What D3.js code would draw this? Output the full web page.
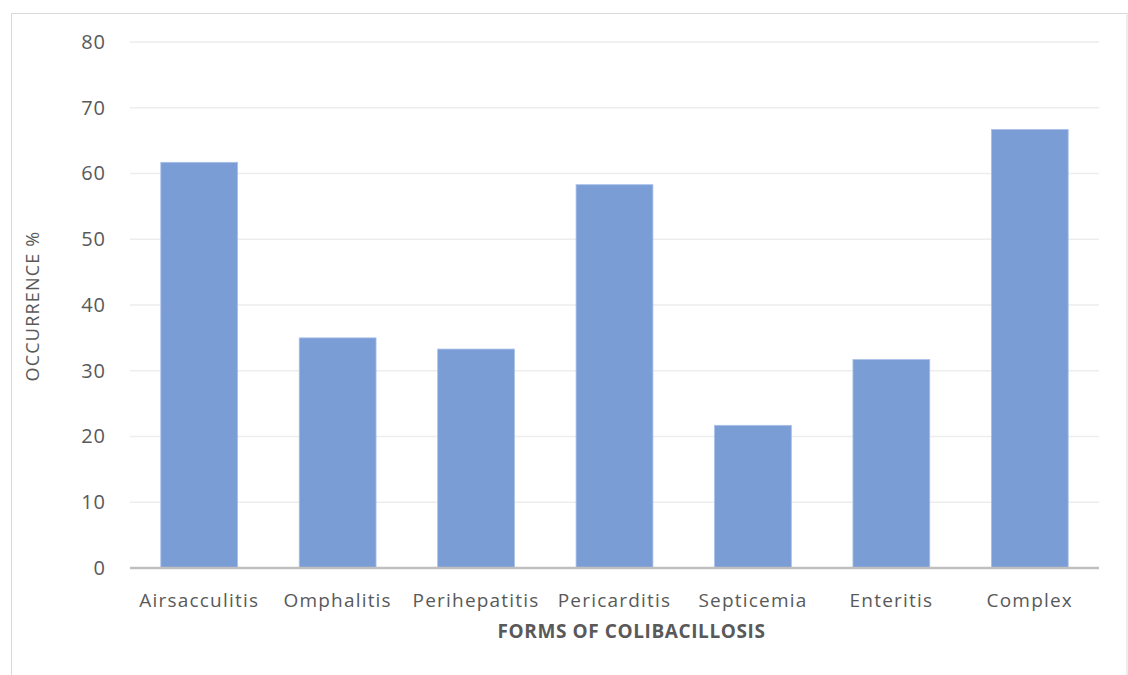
<!DOCTYPE html>
<html>
<head>
<meta charset="utf-8">
<script src="https://cdn.jsdelivr.net/npm/d3@7"></script>
<style>
  html, body { margin: 0; padding: 0; background: #fff; }
  svg { display: block; }
</style>
</head>
<body>
<svg id="chart" width="1128" height="675"></svg>
<script>
// Occurrence of colibacillosis forms (%)
const categories = ["Airsacculitis", "Omphalitis", "Perihepatitis", "Pericarditis", "Septicemia", "Enteritis", "Complex"];
const occurrence = [61.7, 35.0, 33.3, 58.3, 21.7, 31.7, 66.7];
const yTicks = [0, 10, 20, 30, 40, 50, 60, 70, 80];

const svg = d3.select("#chart");
const W = 1128, H = 675;
const margin = { left: 130, right: 29, top: 42, bottom: 107 };
const fontFamily = "'Open Sans', sans-serif";

// chart frame
svg.append("rect")
  .attr("x", 11.5).attr("y", 13.5)
  .attr("width", 1127 - 11.5).attr("height", H)
  .attr("fill", "#fff")
  .attr("stroke", "#d9d9d9").attr("stroke-width", 1);

const x = d3.scaleBand()
  .domain(categories)
  .range([margin.left, W - margin.right])
  .paddingInner(0.445)
  .paddingOuter(0.2225);

const y = d3.scaleLinear()
  .domain([0, 80])
  .range([H - margin.bottom, margin.top]);

// gridlines
svg.append("g")
  .selectAll("line")
  .data(yTicks.filter(d => d > 0))
  .join("line")
  .attr("x1", margin.left).attr("x2", W - margin.right)
  .attr("y1", d => y(d)).attr("y2", d => y(d))
  .attr("stroke", "#ededed").attr("stroke-width", 1.5);

// bars
svg.append("g")
  .selectAll("rect")
  .data(categories)
  .join("rect")
  .attr("x", d => x(d))
  .attr("width", x.bandwidth())
  .attr("y", (d, i) => y(occurrence[i]))
  .attr("height", (d, i) => y(0) - y(occurrence[i]))
  .attr("fill", "#7b9dd6")
  .attr("stroke", "#a9c0e8").attr("stroke-width", 0.8);

// y axis labels
const yAxis = d3.axisLeft(y).tickValues(yTicks).tickSize(0).tickPadding(0);
const gy = svg.append("g")
  .attr("transform", `translate(${margin.left - 24},0)`)
  .call(yAxis);
gy.select(".domain").remove();
gy.selectAll("text")
  .attr("font-family", fontFamily)
  .attr("font-size", 20)
  .attr("letter-spacing", 1)
  .attr("fill", "#595959");

// x axis
const xAxis = d3.axisBottom(x).tickSize(0).tickPadding(0);
const gx = svg.append("g")
  .attr("transform", `translate(0,${y(0)})`)
  .call(xAxis);
gx.select(".domain")
  .attr("stroke", "#bfbfbf").attr("stroke-width", 2.5)
  .attr("d", `M${margin.left},0H${W - margin.right}`);
gx.selectAll("text")
  .attr("font-family", fontFamily)
  .attr("font-size", 19)
  .attr("letter-spacing", 1.2)
  .attr("fill", "#595959")
  .attr("dy", "0")
  .attr("y", 39);

// axis titles
svg.append("text")
  .attr("x", (margin.left + W - margin.right) / 2 + 17)
  .attr("y", 638)
  .attr("text-anchor", "middle")
  .attr("font-family", fontFamily)
  .attr("font-weight", "bold")
  .attr("font-size", 19)
  .attr("letter-spacing", 0.6)
  .attr("fill", "#595959")
  .text("FORMS OF COLIBACILLOSIS");

svg.append("text")
  .attr("transform", `translate(39,${(y(0) + y(80)) / 2 + 1}) rotate(-90)`)
  .attr("text-anchor", "middle")
  .attr("font-family", fontFamily)
  .attr("font-size", 18)
  .attr("letter-spacing", 1.2)
  .attr("fill", "#595959")
  .text("OCCURRENCE %");
</script>
</body>
</html>
